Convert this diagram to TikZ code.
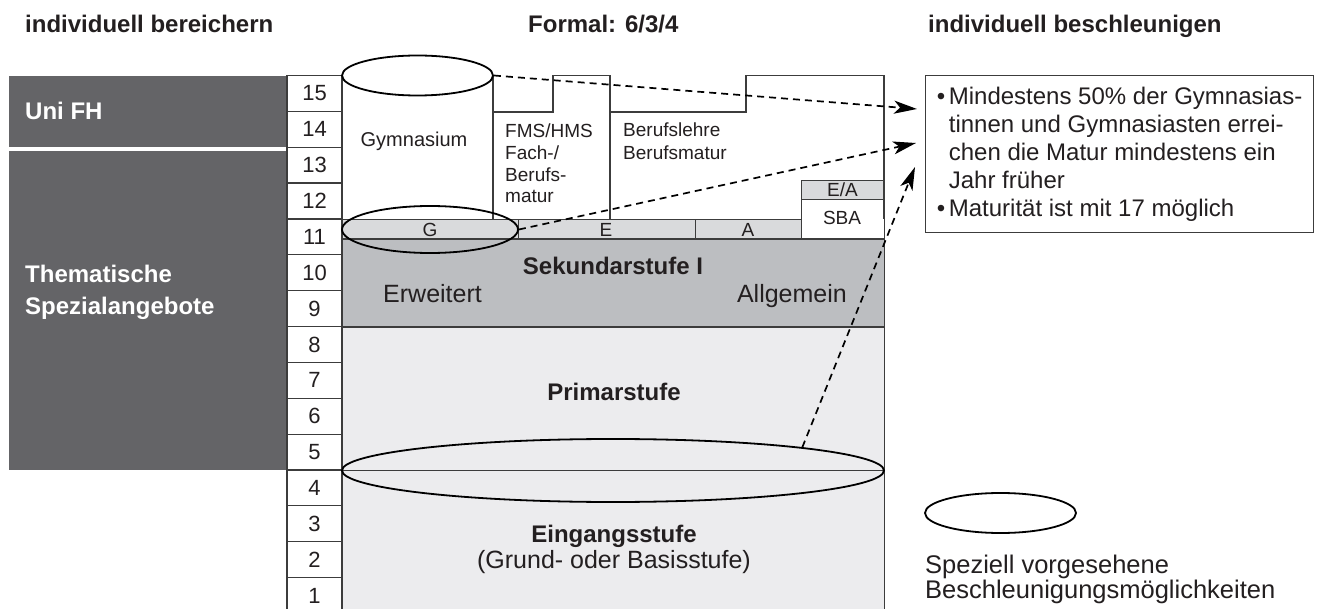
\documentclass[tikz,border=0pt]{standalone}
\usepackage{fontspec}
\setmainfont{Liberation Sans}
\usetikzlibrary{arrows.meta,shapes.geometric}
\definecolor{sidegray}{HTML}{646467}
\definecolor{sekgray}{HTML}{BCBEC1}
\definecolor{bandgray}{HTML}{D9DADC}
\definecolor{stagefill}{HTML}{ECECEE}
\definecolor{rule}{HTML}{3C3C3C}
\definecolor{ink}{HTML}{231F20}
\newcommand{\bul}{\makebox[12pt][l]{\textbullet}}
\newcommand{\ind}{\hspace*{12pt}}
\tikzset{
  heading/.style={font=\fontsize{24}{28}\selectfont\bfseries, text=ink, anchor=base west, inner sep=0pt},
  yearbox/.style={draw=rule, line width=1.2pt, fill=white, minimum width=55pt, minimum height=35.86pt, inner sep=0pt, font=\fontsize{22}{25}\selectfont, text=ink},
  sidebox/.style={fill=sidegray, anchor=north west, inner sep=0pt, minimum width=278pt},
  sidetext/.style={font=\fontsize{24}{28}\selectfont\bfseries, text=white, anchor=base west, inner sep=0pt},
  cell/.style={draw=rule, line width=1.2pt, anchor=north west, inner sep=0pt},
  small/.style={font=\fontsize{19}{22}\selectfont, text=ink, inner sep=0pt, anchor=base},
  stagetext/.style={font=\fontsize{25}{29}\selectfont, text=ink, inner sep=0pt, anchor=base},
  stagetitle/.style={stagetext, font=\fontsize{24}{28}\selectfont\bfseries},
  lens/.style={ellipse, draw=black, line width=1.8pt, inner sep=0pt},
  hint/.style={draw=black, line width=1.7pt, dash pattern=on 7pt off 5pt, -{Stealth[length=23pt,width=13pt,inset=6pt]}},
  infobox/.style={draw=rule, line width=1.2pt, anchor=north west, align=left, minimum width=388pt, minimum height=157pt, font=\fontsize{24}{28}\selectfont, text=ink}
}

\begin{document}
\begin{tikzpicture}[x=1pt,y=-1pt]
\useasboundingbox (0,0) rectangle (1325,609);
\fill[white] (0,0) rectangle (1325,609);

\node[heading] (hleft) at (25,33) {individuell bereichern};
\node[heading] (hmid) at (528,33) {Formal: 6/3/4};
\node[heading] (hright) at (928,33) {individuell beschleunigen};

% side offers
\node[sidebox, minimum height=71.7pt] (uni) at (9,75.5) {};
\node[sidebox, minimum height=319.5pt] (them) at (9,150.5) {};
\node[sidetext] (unitext) at (25,120) {Uni FH};
\node[sidetext] (themtext) at (25,283) {Thematische};
\node[sidetext] (spezitext) at (25,315) {Spezialangebote};

% stages
\node[cell, fill=bandgray, minimum width=176pt, minimum height=19.5pt] (gband) at (342,219) {};
\node[cell, fill=bandgray, minimum width=177pt, minimum height=19.5pt] (eband) at (518,219) {};
\node[cell, fill=bandgray, minimum width=106pt, minimum height=19.5pt] (aband) at (695,219) {};
\node[cell, fill=bandgray, minimum width=83pt, minimum height=19pt] (eabox) at (801,180) {};
\node[cell, fill=white, minimum width=83pt, minimum height=39.5pt] (sba) at (801,199) {};
\node[cell, fill=sekgray, minimum width=542pt, minimum height=88pt] (sek) at (342,238.5) {};
\node[cell, fill=stagefill, minimum width=542pt, minimum height=143.5pt] (prim) at (342,326.5) {};
\node[cell, fill=stagefill, minimum width=542pt, minimum height=145pt] (eing) at (342,470) {};
\draw[rule, line width=1.2pt] (493,75.5) -- (493,219) (610,75.5) -- (610,219)
  (493,112) -- (553,112) -- (553,75.5) -- (610,75.5) -- (610,112) -- (746,112) -- (746,75.5) -- (884,75.5) -- (884,219);

\foreach \n in {1,...,15}
  \node[yearbox] (yr\n) at (314.5,{75.5+(15.5-\n)*35.86}) {\n};

\node[small, font=\fontsize{20}{23}\selectfont] (gymtext) at (414,147) {Gymnasium};
\node[small, anchor=base west, align=left, font=\fontsize{19}{21.7}\selectfont] (fmstext) at (505,203) {FMS/HMS\\Fach-/\\Berufs-\\matur};
\node[small, anchor=base west, align=left, font=\fontsize{19}{23}\selectfont] (lehretext) at (623,160) {Berufslehre\\Berufsmatur};
\node[small] (eatext) at (842.5,196.5) {E/A};
\node[small] (sbatext) at (842,225) {SBA};
\node[small] (gtext) at (430,236.5) {G};
\node[small] (etext) at (606,236.5) {E};
\node[small] (atext) at (748,236.5) {A};
\node[stagetitle] (sektext) at (613,275) {Sekundarstufe I};
\node[stagetext, anchor=base west] (erwtext) at (383,303) {Erweitert};
\node[stagetext, anchor=base east] (allgtext) at (847,303) {Allgemein};
\node[stagetitle] (primtext) at (614,400) {Primarstufe};
\node[stagetitle] (eingtext) at (614,542) {Eingangsstufe};
\node[stagetext] (grundtext) at (614,568) {(Grund- oder Basisstufe)};

% acceleration rings
\node[lens, minimum width=151pt, minimum height=40pt] (gymtop) at (417.5,75.5) {};
\node[lens, minimum width=176pt, minimum height=47pt] (gring) at (430,229.5) {};
\node[lens, minimum width=542pt, minimum height=63pt] (bigring) at (613,470.5) {};

\node[infobox] (info) at (925,75) {\bul Mindestens 50\% der Gymnasias-\\\ind tinnen und Gymnasiasten errei-\\\ind chen die Matur mindestens ein\\\ind Jahr früher\\\bul Maturität ist mit 17 möglich};

\coordinate (tip1) at (917,109);
\coordinate (tip2) at (916,143);
\coordinate (tip3) at (915,167);
\draw[hint] (gymtop.east) -- (tip1);
\draw[hint] (gring.east) -- (tip2);
\draw[hint] (bigring.7) -- (tip3);

% legend
\node[lens, minimum width=151pt, minimum height=40pt] (legendring) at (1000.5,513) {};
\node[stagetext, anchor=base west, font=\fontsize{25.5}{29}\selectfont] (legendtop) at (925,573) {Speziell vorgesehene};
\node[stagetext, anchor=base west, font=\fontsize{25.5}{29}\selectfont] (legendbottom) at (925,598) {Beschleunigungsmöglichkeiten};
\end{tikzpicture}
\end{document}
